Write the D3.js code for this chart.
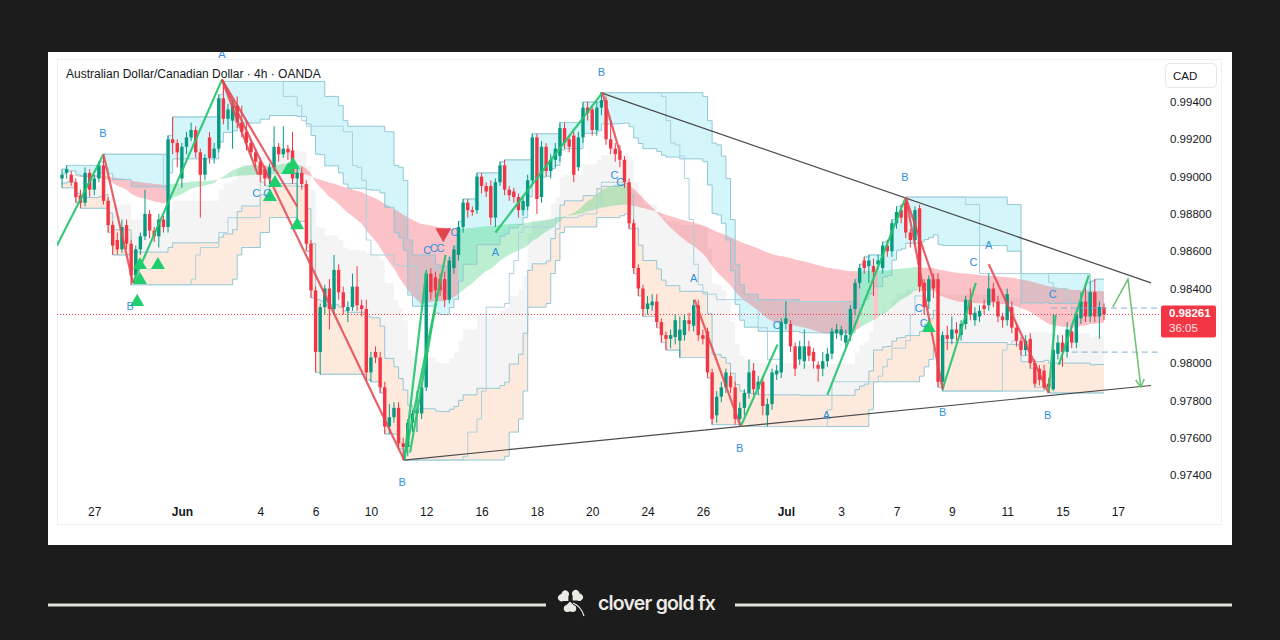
<!DOCTYPE html>
<html>
<head>
<meta charset="utf-8">
<title>AUDCAD 4h</title>
<style>
  body { margin: 0; background: #1c1c1c; }
  svg { display: block; font-family: "Liberation Sans", Arial, sans-serif; }
</style>
</head>
<body>
<svg id="chart" width="1280" height="640"></svg>
<script src="https://d3js.org/d3.v7.min.js"></script>
<script>
// 4h candles, [open, high, low, close]
const candles = [
  [0.9899,0.9904,0.9894,0.9901],[0.9902,0.9906,0.9899,0.9904],[0.9901,0.9903,0.9895,0.9897],[0.9897,0.9899,0.9886,0.9889],
  [0.9890,0.9893,0.9883,0.9886],[0.9886,0.9905,0.9884,0.9902],[0.9902,0.9904,0.9889,0.9893],[0.9893,0.9901,0.9890,0.9899],
  [0.9899,0.9908,0.9897,0.9906],[0.9906,0.9912,0.9885,0.9887],[0.9887,0.9889,0.9870,0.9874],[0.9874,0.9876,0.9858,0.9863],
  [0.9866,0.9870,0.9858,0.9861],[0.9861,0.9877,0.9859,0.9873],[0.9874,0.9877,0.9861,0.9864],[0.9864,0.9866,0.9842,0.9847],
  [0.9847,0.9863,0.9845,0.9861],[0.9861,0.9870,0.9858,0.9868],[0.9868,0.9893,0.9866,0.9880],[0.9880,0.9882,0.9867,0.9871],
  [0.9871,0.9873,0.9865,0.9868],[0.9868,0.9880,0.9862,0.9877],[0.9877,0.9879,0.9870,0.9873],[0.9873,0.9922,0.9870,0.9920],
  [0.9920,0.9932,0.9912,0.9918],[0.9918,0.9920,0.9905,0.9913],[0.9899,0.9918,0.9894,0.9916],[0.9916,0.9924,0.9912,0.9921],
  [0.9921,0.9929,0.9919,0.9925],[0.9925,0.9927,0.9910,0.9913],[0.9913,0.9915,0.9878,0.9901],[0.9901,0.9912,0.9898,0.9910],
  [0.9921,0.9924,0.9907,0.9910],[0.9910,0.9918,0.9907,0.9915],[0.9915,0.9944,0.9913,0.9942],[0.9942,0.9951,0.9928,0.9931],
  [0.9931,0.9939,0.9925,0.9936],[0.9930,0.9941,0.9915,0.9938],[0.9938,0.9943,0.9926,0.9929],[0.9929,0.9938,0.9921,0.9924],
  [0.9924,0.9930,0.9914,0.9918],[0.9918,0.9920,0.9910,0.9913],[0.9913,0.9915,0.9905,0.9908],[0.9908,0.9910,0.9897,0.9901],
  [0.9904,0.9906,0.9895,0.9899],[0.9899,0.9907,0.9896,0.9905],[0.9905,0.9927,0.9903,0.9916],[0.9916,0.9918,0.9908,0.9912],
  [0.9912,0.9927,0.9910,0.9915],[0.9915,0.9917,0.9909,0.9913],[0.9914,0.9924,0.9896,0.9899],[0.9899,0.9906,0.9876,0.9902],
  [0.9902,0.9905,0.9893,0.9896],[0.9896,0.9898,0.9860,0.9864],[0.9864,0.9866,0.9835,0.9839],[0.9839,0.9841,0.9795,0.9806],
  [0.9806,0.9832,0.9794,0.9830],[0.9830,0.9842,0.9826,0.9840],[0.9840,0.9845,0.9818,0.9829],[0.9829,0.9858,0.9826,0.9850],
  [0.9850,0.9853,0.9834,0.9838],[0.9838,0.9841,0.9826,0.9830],[0.9828,0.9833,0.9822,0.9830],[0.9830,0.9848,0.9828,0.9841],
  [0.9841,0.9852,0.9828,0.9831],[0.9831,0.9834,0.9825,0.9829],[0.9829,0.9834,0.9791,0.9795],[0.9795,0.9806,0.9790,0.9803],
  [0.9806,0.9809,0.9800,0.9803],[0.9803,0.9806,0.9784,0.9787],[0.9787,0.9790,0.9762,0.9766],[0.9766,0.9778,0.9762,0.9771],
  [0.9771,0.9779,0.9768,0.9776],[0.9776,0.9779,0.9754,0.9757],[0.9757,0.9760,0.9748,0.9755],[0.9755,0.9770,0.9750,0.9768],
  [0.9768,0.9775,0.9763,0.9773],[0.9773,0.9785,0.9763,0.9775],[0.9773,0.9789,0.9770,0.9787],[0.9787,0.9850,0.9785,0.9848],
  [0.9848,0.9851,0.9834,0.9838],[0.9846,0.9849,0.9835,0.9839],[0.9845,0.9848,0.9836,0.9839],[0.9845,0.9849,0.9830,0.9834],
  [0.9834,0.9857,0.9832,0.9855],[0.9851,0.9863,0.9848,0.9861],[0.9858,0.9876,0.9855,0.9873],[0.9873,0.9888,0.9870,0.9886],
  [0.9886,0.9888,0.9878,0.9882],[0.9882,0.9884,0.9879,0.9881],[0.9882,0.9902,0.9880,0.9900],[0.9900,0.9902,0.9891,0.9895],
  [0.9895,0.9897,0.9889,0.9892],[0.9895,0.9898,0.9874,0.9878],[0.9878,0.9899,0.9873,0.9897],[0.9897,0.9908,0.9895,0.9906],
  [0.9906,0.9909,0.9890,0.9893],[0.9893,0.9895,0.9887,0.9890],[0.9892,0.9894,0.9886,0.9889],[0.9889,0.9891,0.9878,0.9882],
  [0.9882,0.9889,0.9879,0.9887],[0.9884,0.9901,0.9882,0.9898],[0.9898,0.9923,0.9896,0.9921],[0.9921,0.9923,0.9880,0.9888],
  [0.9889,0.9919,0.9886,0.9916],[0.9916,0.9918,0.9900,0.9903],[0.9903,0.9912,0.9899,0.9909],[0.9909,0.9918,0.9905,0.9915],
  [0.9911,0.9929,0.9908,0.9926],[0.9926,0.9929,0.9915,0.9918],[0.9920,0.9922,0.9913,0.9916],[0.9922,0.9924,0.9897,0.9901],
  [0.9905,0.9924,0.9903,0.9921],[0.9921,0.9940,0.9918,0.9937],[0.9937,0.9940,0.9930,0.9934],[0.9936,0.9938,0.9922,0.9925],
  [0.9925,0.9940,0.9922,0.9937],[0.9937,0.9945,0.9933,0.9941],[0.9941,0.9943,0.9917,0.9920],[0.9920,0.9930,0.9912,0.9915],
  [0.9915,0.9918,0.9908,0.9912],[0.9914,0.9917,0.9905,0.9909],[0.9909,0.9911,0.9894,0.9897],[0.9897,0.9899,0.9872,0.9875],
  [0.9875,0.9877,0.9848,0.9851],[0.9851,0.9853,0.9836,0.9840],[0.9840,0.9842,0.9825,0.9829],[0.9829,0.9836,0.9826,0.9832],
  [0.9831,0.9837,0.9828,0.9833],[0.9833,0.9837,0.9819,0.9822],[0.9822,0.9824,0.9811,0.9815],[0.9815,0.9817,0.9807,0.9813],
  [0.9813,0.9818,0.9808,0.9815],[0.9814,0.9826,0.9810,0.9823],[0.9812,0.9825,0.9803,0.9818],[0.9815,0.9826,0.9812,0.9823],
  [0.9823,0.9827,0.9817,0.9821],[0.9820,0.9834,0.9817,0.9831],[0.9831,0.9834,0.9812,0.9815],[0.9815,0.9818,0.9810,0.9813],
  [0.9817,0.9819,0.9792,0.9795],[0.9795,0.9797,0.9767,0.9770],[0.9772,0.9785,0.9768,0.9782],[0.9782,0.9790,0.9779,0.9787],
  [0.9787,0.9797,0.9784,0.9795],[0.9793,0.9795,0.9784,0.9787],[0.9787,0.9790,0.9767,0.9770],[0.9770,0.9779,0.9766,0.9776],
  [0.9776,0.9786,0.9772,0.9784],[0.9784,0.9802,0.9781,0.9795],[0.9796,0.9800,0.9783,0.9786],[0.9786,0.9793,0.9783,0.9790],
  [0.9790,0.9793,0.9772,0.9777],[0.9772,0.9781,0.9766,0.9778],[0.9778,0.9797,0.9775,0.9795],[0.9794,0.9799,0.9791,0.9796],
  [0.9795,0.9824,0.9792,0.9822],[0.9821,0.9833,0.9818,0.9824],[0.9821,0.9823,0.9806,0.9809],[0.9809,0.9811,0.9793,0.9797],
  [0.9802,0.9812,0.9799,0.9809],[0.9801,0.9818,0.9797,0.9809],[0.9809,0.9812,0.9801,0.9804],[0.9806,0.9808,0.9797,0.9801],
  [0.9799,0.9801,0.9790,0.9797],[0.9797,0.9806,0.9793,0.9801],[0.9801,0.9808,0.9798,0.9805],[0.9805,0.9819,0.9802,0.9817],
  [0.9816,0.9821,0.9813,0.9818],[0.9815,0.9820,0.9812,0.9818],[0.9811,0.9818,0.9808,0.9815],[0.9815,0.9831,0.9812,0.9829],
  [0.9829,0.9845,0.9826,0.9843],[0.9843,0.9853,0.9840,0.9851],[0.9855,0.9857,0.9848,0.9851],[0.9852,0.9858,0.9843,0.9855],
  [0.9852,0.9856,0.9836,0.9849],[0.9853,0.9858,0.9850,0.9855],[0.9851,0.9865,0.9848,0.9863],[0.9863,0.9866,0.9857,0.9860],
  [0.9860,0.9877,0.9857,0.9875],[0.9875,0.9884,0.9872,0.9881],[0.9882,0.9885,0.9875,0.9878],[0.9886,0.9889,0.9867,0.9870],
  [0.9870,0.9872,0.9862,0.9866],[0.9866,0.9884,0.9863,0.9882],[0.9883,0.9885,0.9838,0.9841],[0.9843,0.9845,0.9826,0.9830],
  [0.9833,0.9847,0.9829,0.9845],[0.9845,0.9848,0.9835,0.9840],[0.9845,0.9848,0.9787,0.9790],[0.9790,0.9817,0.9785,0.9815],
  [0.9815,0.9820,0.9807,0.9813],[0.9813,0.9825,0.9810,0.9818],[0.9818,0.9822,0.9812,0.9816],[0.9815,0.9823,0.9812,0.9821],
  [0.9821,0.9836,0.9818,0.9834],[0.9834,0.9840,0.9823,0.9826],[0.9823,0.9830,0.9820,0.9827],[0.9825,0.9831,0.9822,0.9828],
  [0.9831,0.9834,0.9826,0.9829],[0.9831,0.9848,0.9828,0.9840],[0.9840,0.9843,0.9830,0.9833],[0.9833,0.9836,0.9822,0.9825],
  [0.9825,0.9827,0.9819,0.9823],[0.9823,0.9840,0.9820,0.9837],[0.9830,0.9833,0.9816,0.9819],[0.9819,0.9821,0.9809,0.9812],
  [0.9812,0.9814,0.9804,0.9807],[0.9807,0.9815,0.9804,0.9812],[0.9813,0.9816,0.9797,0.9800],[0.9800,0.9802,0.9787,0.9789],
  [0.9797,0.9799,0.9788,0.9791],[0.9796,0.9799,0.9786,0.9787],[0.9789,0.9792,0.9784,0.9787],[0.9786,0.9826,0.9785,0.9807],
  [0.9805,0.9815,0.9802,0.9811],[0.9811,0.9815,0.9798,0.9806],[0.9806,0.9822,0.9803,0.9818],[0.9817,0.9820,0.9808,0.9811],
  [0.9811,0.9828,0.9808,0.9826],[0.9824,0.9838,0.9821,0.9833],[0.9833,0.9843,0.9822,0.9825],[0.9825,0.9844,0.9822,0.9838],
  [0.9838,0.9845,0.9822,0.9825],[0.9825,0.9833,0.9813,0.9830],[0.9830,0.9832,0.9823,0.98261]
];

// time axis: bar index of each label
const tickIdx = [7, 26, 43, 55, 67, 79, 91, 103, 115, 127, 139, 157, 169, 181, 193, 205, 217, 229];
const tickLabels = ["27", "Jun", "4", "6", "10", "12", "16", "18", "20", "24", "26", "Jul", "3", "7", "9", "11", "15", "17"];
// 0.98200 sits under the price tag, so it is not printed
const priceTicks = [0.974, 0.976, 0.978, 0.980, 0.984, 0.986, 0.988, 0.990, 0.992, 0.994];

const lastPrice = 0.98261;
const countdown = "36:05";

// zigzag legs [bar, price, bar, price]
const upLegs = [
  [-1.1, 0.9863, 9, 0.9912], [15.4, 0.9843, 34.7, 0.9952],
  [74.2, 0.9748, 79, 0.9849], [74.2, 0.9748, 83.2, 0.9858], [75.5, 0.9752, 81.5, 0.9838],
  [94, 0.9870, 117.2, 0.9945], [147.2, 0.9766, 155.2, 0.9810], [166, 0.9783, 183, 0.9889],
  [191, 0.9786, 198.2, 0.9843], [214, 0.9784, 215.5, 0.9826], [216.2, 0.9799, 222.7, 0.9847]
];
const downLegs = [
  [9, 0.9912, 15.4, 0.9843], [34.7, 0.9952, 74.2, 0.9748], [34.7, 0.9952, 42.5, 0.9901],
  [34.7, 0.9952, 51, 0.9884], [117.2, 0.9945, 121, 0.9913], [137.2, 0.9834, 147.2, 0.9766],
  [183, 0.9889, 191, 0.9786], [183, 0.9889, 189, 0.9845], [201, 0.9853, 214, 0.9784]
];
const trendLines = [[116.8, 0.9945, 236.2, 0.9843], [74.2, 0.9748, 236.2, 0.9788]];
const projection = [[227.9, 0.9830], [231.2, 0.9845], [234, 0.9787]];
const levels = [[214.5, 0.98295], [219, 0.98059]];

// wave labels [bar, price, text]
const waveLabels = [
  [8.9, 0.99234, "B"], [34.7, 0.99657, "A"], [42.1, 0.98912, "C"], [44.5, 0.98912, "C"], [14.8, 0.98306, "B"],
  [79.2, 0.98606, "C"], [80.6, 0.98617, "C"], [82.1, 0.98617, "C"], [85.1, 0.98703, "C"], [94, 0.98596, "A"],
  [117, 0.99561, "B"], [119.8, 0.99009, "C"], [121.1, 0.98971, "C"], [137, 0.98456, "A"], [147, 0.97545, "B"],
  [155, 0.98204, "C"], [165.8, 0.97722, "A"], [182.8, 0.98998, "B"], [185.8, 0.98295, "C"], [186.9, 0.98215, "C"],
  [197.7, 0.98542, "C"], [201, 0.98633, "A"], [191, 0.97738, "B"], [214.9, 0.98370, "C"], [213.8, 0.97722, "B"],
  [73.8, 0.97363, "B"]
];
const buySignals = [
  [16.9, 0.98526], [20.8, 0.98526], [16.9, 0.98446], [16.3, 0.98328], [45.1, 0.98891],
  [46.2, 0.98966], [49.1, 0.99035], [50.1, 0.99062], [51, 0.98740], [188, 0.98188]
];
const sellSignals = [[82.7, 0.98698]];

const upColor = "#089981", downColor = "#f23645";

const svg = d3.select("#chart");
svg.append("rect").attr("width", 1280).attr("height", 640).attr("fill", "#1c1c1c");
svg.append("rect").attr("x", 48).attr("y", 52).attr("width", 1184).attr("height", 493).attr("fill", "#ffffff");
svg.append("rect").attr("x", 57.5).attr("y", 59.5).attr("width", 1164).attr("height", 465)
  .attr("fill", "none").attr("stroke", "#eef0f3");

const x = d3.scaleLinear().domain([0, 226]).range([62, 1104]);
const y = d3.scaleLinear().domain([0.974, 0.994]).range([475, 102]);

svg.append("clipPath").attr("id", "plot").append("rect")
  .attr("x", 57).attr("y", 52).attr("width", 1103).attr("height", 445);
const g = svg.append("g").attr("clip-path", "url(#plot)");

// indicators built from the candles
const highs = candles.map(d => d[1]), lows = candles.map(d => d[2]), closes = candles.map(d => d[3]);
function donchian(p) {
  return candles.map((d, i) => {
    const s = Math.max(0, i - p + 1);
    const hi = d3.max(highs.slice(s, i + 1)), lo = d3.min(lows.slice(s, i + 1)), r = hi - lo;
    return { hi, lo, mid: (hi + lo) / 2, hq: hi - r / 4, lq: lo + r / 4 };
  });
}
function ema(vals, p) {
  const k = 2 / (p + 1);
  let e = vals[0];
  return vals.map(v => (e = v * k + e * (1 - k)));
}
const dcSlow = donchian(22), dcMid = donchian(13);
const idx = candles.map((d, i) => i);

const band = (top, bottom, fill, op) => g.append("path").datum(idx)
  .attr("d", d3.area().x(i => x(i)).y0(i => y(bottom(i))).y1(i => y(top(i))).curve(d3.curveStepAfter))
  .attr("fill", fill).attr("fill-opacity", op);

band(i => dcSlow[i].hi, i => dcSlow[i].hq, "#cdf4f9", 0.85);
band(i => dcSlow[i].lq, i => dcSlow[i].lo, "#fcdcc6", 0.6);
band(i => dcSlow[i].mid, i => dcSlow[i].lq, "#e6e6e6", 0.45);

// trend cloud, coloured by price against the slow average
const fast = ema(closes, 45), slow = ema(closes, 160);
const runs = [];
let cur = null;
idx.forEach(i => {
  const up = closes[i] >= slow[i];
  if (!cur || cur.up !== up) {
    if (cur) cur.pts.push(i);
    cur = { up, pts: [] };
    runs.push(cur);
  }
  cur.pts.push(i);
});
runs.forEach(r => {
  g.append("path").datum(r.pts)
    .attr("d", d3.area().x(i => x(i)).y0(i => y(slow[i])).y1(i => y(fast[i])).curve(d3.curveMonotoneX))
    .attr("fill", r.up ? "#2ecc71" : "#f23645")
    .attr("fill-opacity", r.up ? 0.32 : 0.3);
});

// channel lines
["hi", "hq", "lq", "lo"].forEach(k => {
  g.append("path").datum(idx)
    .attr("d", d3.line().x(i => x(i)).y(i => y(dcSlow[i][k])).curve(d3.curveStepAfter))
    .attr("fill", "none").attr("stroke", "#93c7d6").attr("stroke-width", 1);
});
["hi", "lo"].forEach(k => {
  g.append("path").datum(idx)
    .attr("d", d3.line().x(i => x(i)).y(i => y(dcMid[i][k])).curve(d3.curveStepAfter))
    .attr("fill", "none").attr("stroke", "#a9d2de").attr("stroke-width", 1);
});

// last price line
g.append("line").attr("x1", 57).attr("x2", 1160).attr("y1", y(lastPrice)).attr("y2", y(lastPrice))
  .attr("stroke", downColor).attr("stroke-width", 1).attr("stroke-dasharray", "1,2");

// candles
const bw = 3.4;
g.append("g").selectAll("line").data(candles).join("line")
  .attr("x1", (d, i) => x(i)).attr("x2", (d, i) => x(i))
  .attr("y1", d => y(d[1])).attr("y2", d => y(d[2]))
  .attr("stroke", d => d[3] >= d[0] ? upColor : downColor).attr("stroke-width", 1);
g.append("g").selectAll("rect").data(candles).join("rect")
  .attr("x", (d, i) => x(i) - bw / 2).attr("width", bw)
  .attr("y", d => y(Math.max(d[0], d[3])))
  .attr("height", d => Math.max(1, Math.abs(y(d[0]) - y(d[3]))))
  .attr("fill", d => d[3] >= d[0] ? upColor : downColor);

// trend lines
g.selectAll(".trend").data(trendLines).join("line").attr("class", "trend")
  .attr("x1", d => x(d[0])).attr("y1", d => y(d[1])).attr("x2", d => x(d[2])).attr("y2", d => y(d[3]))
  .attr("stroke", "#4a4a4a").attr("stroke-width", 1.2);

// zigzag
g.selectAll(".up").data(upLegs).join("line").attr("class", "up")
  .attr("x1", d => x(d[0])).attr("y1", d => y(d[1])).attr("x2", d => x(d[2])).attr("y2", d => y(d[3]))
  .attr("stroke", "#22c46c").attr("stroke-width", 2.2).attr("stroke-opacity", 0.9);
g.selectAll(".down").data(downLegs).join("line").attr("class", "down")
  .attr("x1", d => x(d[0])).attr("y1", d => y(d[1])).attr("x2", d => x(d[2])).attr("y2", d => y(d[3]))
  .attr("stroke", "#e4454f").attr("stroke-width", 2.2).attr("stroke-opacity", 0.85);

// signals
g.selectAll(".buy").data(buySignals).join("path").attr("class", "buy")
  .attr("d", d3.symbol(d3.symbolTriangle, 85))
  .attr("transform", d => `translate(${x(d[0])},${y(d[1])})`)
  .attr("fill", "#1fcf6e");
g.selectAll(".sell").data(sellSignals).join("path").attr("class", "sell")
  .attr("d", d3.symbol(d3.symbolTriangle, 110))
  .attr("transform", d => `translate(${x(d[0])},${y(d[1])}) rotate(180)`)
  .attr("fill", "#e0454f");

// wave labels
g.selectAll(".wave").data(waveLabels).join("text").attr("class", "wave")
  .attr("x", d => x(d[0])).attr("y", d => y(d[1]))
  .attr("text-anchor", "middle").attr("dominant-baseline", "central")
  .attr("font-size", 11).attr("fill", "#2f8fe0")
  .text(d => d[2]);

// projected levels
g.selectAll(".lvl").data(levels).join("line").attr("class", "lvl")
  .attr("x1", d => x(d[0])).attr("x2", 1160).attr("y1", d => y(d[1])).attr("y2", d => y(d[1]))
  .attr("stroke", "#7fb2d3").attr("stroke-width", 1).attr("stroke-dasharray", "6,4");

// projection arrow
g.append("path").datum(projection)
  .attr("d", d3.line().x(d => x(d[0])).y(d => y(d[1])))
  .attr("fill", "none").attr("stroke", "#6cc070").attr("stroke-width", 1.5);
{
  const a = projection[projection.length - 2], b = projection[projection.length - 1];
  const ang = Math.atan2(y(b[1]) - y(a[1]), x(b[0]) - x(a[0]));
  const bx = x(b[0]), by = y(b[1]), len = 9;
  [-0.5, 0.5].forEach(da => {
    g.append("line").attr("x1", bx).attr("y1", by)
      .attr("x2", bx - len * Math.cos(ang + da)).attr("y2", by - len * Math.sin(ang + da))
      .attr("stroke", "#6cc070").attr("stroke-width", 1.5);
  });
}

// axes
const yAxis = svg.append("g").attr("transform", "translate(1166,0)")
  .call(d3.axisRight(y).tickValues(priceTicks).tickFormat(d3.format(".5f")).tickSize(0).tickPadding(4));
yAxis.select(".domain").remove();
yAxis.selectAll("text").attr("font-size", 11.5).attr("fill", "#131722")
  .attr("font-family", "'Liberation Sans', Arial, sans-serif");

const xAxis = svg.append("g").attr("transform", "translate(0,504)")
  .call(d3.axisBottom(x).tickValues(tickIdx).tickFormat((d, k) => tickLabels[k]).tickSize(0).tickPadding(3));
xAxis.select(".domain").remove();
xAxis.selectAll("text").attr("font-size", 12).attr("fill", "#131722")
  .attr("font-family", "'Liberation Sans', Arial, sans-serif")
  .attr("font-weight", (d, k) => isNaN(+tickLabels[k]) ? 600 : 400);

// price tag
svg.append("rect").attr("x", 1161).attr("y", y(lastPrice) - 9).attr("width", 55).attr("height", 32)
  .attr("rx", 2).attr("fill", downColor);
svg.append("text").attr("x", 1169).attr("y", y(lastPrice) + 3).attr("font-size", 11.5).attr("font-weight", 700)
  .attr("fill", "#fff").text(d3.format(".5f")(lastPrice));
svg.append("text").attr("x", 1169).attr("y", y(lastPrice) + 18).attr("font-size", 11.5)
  .attr("fill", "#fde4e6").text(countdown);

// currency box
svg.append("rect").attr("x", 1165.5).attr("y", 63.5).attr("width", 51).attr("height", 24).attr("rx", 4)
  .attr("fill", "#fff").attr("stroke", "#e3e6ec");
svg.append("text").attr("x", 1173).attr("y", 79.5).attr("font-size", 11.5).attr("fill", "#131722").text("CAD");

// title
svg.append("text").attr("x", 66).attr("y", 78).attr("font-size", 12).attr("fill", "#131722")
  .text("Australian Dollar/Canadian Dollar · 4h · OANDA");

// footer
const foot = svg.append("g");
foot.append("line").attr("x1", 48).attr("x2", 546).attr("y1", 605).attr("y2", 605)
  .attr("stroke", "#e4e2dc").attr("stroke-width", 3);
foot.append("line").attr("x1", 735).attr("x2", 1232).attr("y1", 605).attr("y2", 605)
  .attr("stroke", "#e4e2dc").attr("stroke-width", 3);
// three heart-shaped leaves
[[564.5, 597, -45], [576.5, 596.5, 45], [570, 607, 180]].forEach(l => {
  const lf = foot.append("g").attr("transform", `translate(${l[0]},${l[1]}) rotate(${l[2]})`);
  lf.append("circle").attr("cx", -2.6).attr("cy", -1.5).attr("r", 3.6).attr("fill", "#ebe9e4");
  lf.append("circle").attr("cx", 2.6).attr("cy", -1.5).attr("r", 3.6).attr("fill", "#ebe9e4");
  lf.append("path").attr("d", "M-6,-0.5 L0,5.5 L6,-0.5 Z").attr("fill", "#ebe9e4");
});
foot.append("path").attr("d", "M573,603 Q581,606 584,616").attr("fill", "none")
  .attr("stroke", "#ebe9e4").attr("stroke-width", 1.2);
foot.append("text").attr("x", 598).attr("y", 610).attr("font-family", "Inter, 'Noto Sans', sans-serif")
  .attr("font-size", 20).attr("font-weight", 600).attr("letter-spacing", -0.8)
  .attr("textLength", 117).attr("lengthAdjust", "spacingAndGlyphs")
  .attr("fill", "#ecebe6").text("clover gold fx");
</script>
</body>
</html>
